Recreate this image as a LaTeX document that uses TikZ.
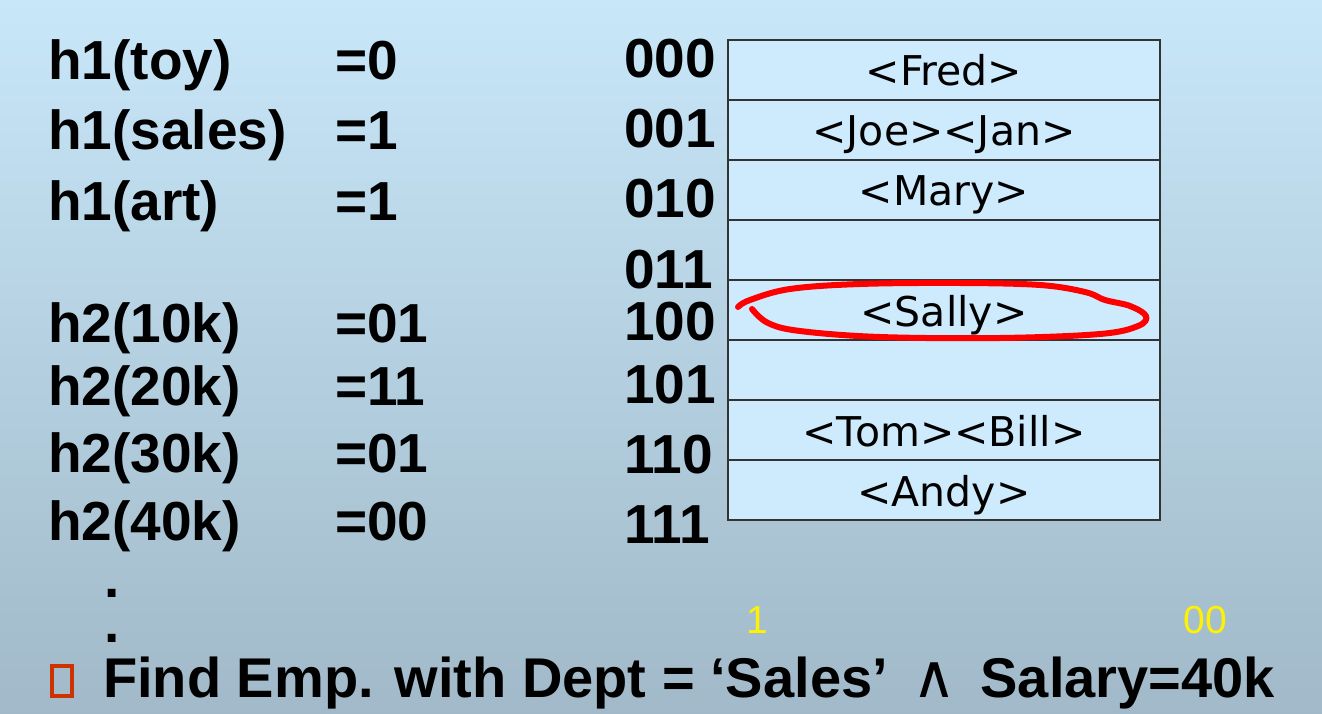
\documentclass[tikz,border=0pt]{standalone}
\usepackage{fontspec}
\setmainfont{Liberation Sans}
\newfontfamily\cellfont{DejaVu Sans}
\usetikzlibrary{positioning}

\definecolor{bgtop}{RGB}{200,231,249}
\definecolor{bgbot}{RGB}{161,185,200}
\definecolor{cellblue}{RGB}{205,235,253}
\definecolor{bulletred}{RGB}{204,51,0}

\tikzset{
  lbl/.style={anchor=base west, inner sep=0pt, font=\fontsize{55}{60}\selectfont\bfseries},
  dot/.style={lbl, text height=8pt, text depth=0pt},
  cell/.style={draw=black!80, fill=cellblue, line width=1.5pt, minimum width=432pt,
    minimum height=60pt, inner sep=0pt, outer sep=0pt, text height=34pt, text depth=2pt,
    font=\cellfont\fontsize{41}{48}\selectfont},
  hint/.style={anchor=base, inner sep=0pt, text=yellow, font=\fontsize{39}{44}\selectfont},
  query/.style={lbl, font=\fontsize{56}{60}\selectfont\bfseries},
}

\begin{document}
\begin{tikzpicture}[x=1pt, y=-1pt]
        \shade[top color=bgtop, bottom color=bgbot] (0,0) rectangle (1322,714);
        \useasboundingbox (0,0) rectangle (1322,714);
        \foreach \f/\m/\v/\y [count=\i] in {h1/toy/0/80, h1/sales/1/150, h1/art/1/220,
            h2/10k/01/342, h2/20k/11/405, h2/30k/01/472, h2/40k/00/540}   %hash values
          {
          \node [lbl] (key-\i) at (48,\y) {\f(\m)};
          \node [lbl] (val-\i) at (335,\y) {=\v};
          }
        \foreach \c/\y [count=\i] in {000/78, 001/148, 010/218, 011/288,
            100/340, 101/403, 110/473, 111/543}   %bucket numbers
          \node [lbl] (code-\i) at (624,\y) {\c};
        \foreach \l [count=\i] in {<Fred>, <Joe><Jan>, <Mary>, {}, <Sally>, {}, <Tom><Bill>, <Andy>}
          \node [cell] (bucket-\i) at (944,10+60*\i) {\l};
        \draw [red, line width=6pt, line cap=round, line join=round]
          plot [smooth, tension=0.6] coordinates {(738,307) (750,300) (790,289) (860,284)
            (960,283) (1040,285) (1085,292) (1105,300) (1130,306) (1146,316) (1138,326)
            (1100,334) (1000,338) (880,337) (800,331) (768,323) (752,309)};
        \node [dot] (dot-1) at (104,597) {.};
        \node [dot] (dot-2) at (104,642) {.};
        \node [hint] (hint-1) at (757,633) {1};
        \node [hint] (hint-2) at (1205,633) {00};
        \node [draw=bulletred, line width=4pt, minimum width=20pt, minimum height=30pt,
          inner sep=0pt] (bullet) at (62,681) {};
        \node [query] (query) at (103,697) {Find Emp. with Dept = ‘Sales’};
        \node [anchor=base west, inner sep=0pt, font=\cellfont\fontsize{60}{64}\selectfont,
          base right=24pt of query] (and) {∧};
        \node [query, base right=24pt of and] (salary) {Salary=40k};
\end{tikzpicture}
\end{document}
